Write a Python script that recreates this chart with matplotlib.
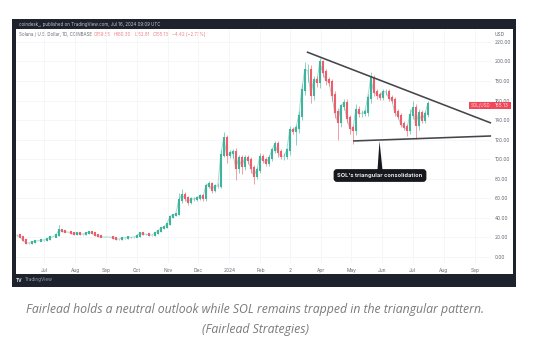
import numpy as np
import pandas as pd
import matplotlib
matplotlib.use("Agg")
import matplotlib.pyplot as plt
import matplotlib.dates as mdates
from matplotlib.patches import Rectangle, FancyBboxPatch, Polygon

closes = [
    22.5,20.5,17.4,14.3,14.3,15.3,16.4,16.4,17.4,17.4,18.4,20.5,
    20.5,22.5,27.6,26.6,25.6,25.6,24.5,23.5,24.5,23.5,23.5,24.5,
    25.6,24.5,22.5,21.5,20.5,20.5,20.5,20.5,19.4,18.4,18.4,19.4,
    19.4,20.5,20,20.5,21.5,24.5,23.5,23.5,22.5,22.5,24.5,26.6,
    29.7,30.7,33.8,40.9,43,44,58.3,63.4,60.4,56.3,59.3,59.3,
    60.4,62.4,60.4,72.6,74.7,68.5,72.6,72.6,104,122,104,106,
    107,91,101,93,101,99,91,83,89,102,99,96,
    101,109,116,107,103,103,109,130,129,132,144,171,
    191,191,166,181,179,199,189,181,179,166,148,138,
    154,158,142,132,130,150,147,147,148,163,183,169,
    166,164,169,169,163,161,148,144,136,133,130,145,
    152,135,147,140,146,156]
wick_up = [
    .5,.5,.5,.3,.3,.5,.5,.5,.5,.5,.5,.5,
    .5,1,5,1,.5,.5,.5,.5,.5,.5,.5,.5,
    .5,.5,.5,.5,.5,.5,.5,.5,.5,.5,.5,.5,
    .5,.5,.5,.5,2,1,.5,.5,.5,.5,1,1,
    1,1,1,2,1,1,7,6,3,2,2,2,
    2,2,2,3,3,2,2,3,5,6,3,3,
    3,4,3,3,3,3,3,3,3,4,3,3,
    3,3,3,3,3,3,3,4,3,3,5,6,
    8,6,5,4,4,5,3,3,3,3,4,4,
    3,4,4,3,3,6,4,3,3,4,6,3,
    3,3,3,3,3,3,3,3,3,3,3,6,
    8,4,4,3,3,4]
wick_down = [
    .5,.5,.5,.5,.5,.5,.5,.5,.5,.5,.5,.5,
    .5,.5,1,.5,.5,.5,.5,.5,.5,.5,.5,.5,
    .5,.5,.5,.5,.5,.5,.5,.5,.5,.5,.5,.5,
    .5,.5,.5,.5,.5,.5,.5,.5,.5,.5,.5,.5,
    1,1,1,1,1,1,1,3,3,3,2,2,
    2,2,3,3,2,3,2,2,2,2,8,3,
    5,12,5,8,4,4,5,8,3,3,3,3,
    3,3,3,5,3,4,3,5,3,14,5,4,
    5,12,8,5,5,6,5,5,4,6,6,18,
    5,4,5,6,14,5,4,4,3,4,5,4,
    4,3,3,3,3,3,4,3,3,3,6,4,
    4,14,5,3,3,3]

first_bar, last_bar = "2023-06-04", "2024-07-16"
month_ticks = ["2023-07-01","2023-08-01","2023-09-01","2023-10-01","2023-11-01","2023-12-01",
               "2024-01-01","2024-02-01","2024-03-01","2024-04-01","2024-05-01","2024-06-01",
               "2024-07-01","2024-08-01","2024-09-01"]
month_labels = ["Jul","Aug","Sep","Oct","Nov","Dec","2024","Feb","2","Apr","May","Jun","Jul","Aug","Sep"]
price_ticks = [0,20,40,60,80,100,120,140,160,180,200,220]
resistance_dates, resistance_prices = ["2024-03-18","2024-09-17"], [209.7,137]
support_dates, support_prices = ["2024-05-03","2024-09-17"], [118.7,123.8]
last_close = "155.13"

UP, DOWN = "#3fb39c", "#ee5d6c"
W, H = 542, 351
fig = plt.figure(figsize=(W/100, H/100), dpi=100, facecolor="white")
plt.rcParams["font.family"] = ["Inter", "DejaVu Sans"]
SMALL = 3.2

bg = fig.add_axes([0,0,1,1], zorder=0)
bg.set_xlim(0,W); bg.set_ylim(H,0); bg.axis("off")
bg.add_patch(Rectangle((12,19),504,268,fc="#1e222d",ec="none"))
bg.add_patch(Rectangle((16,29),497,245,fc="white",ec="none"))
bg.text(19,24.2,"coindesk_, published on TradingView.com, Jul 16, 2024 09:09 UTC",color="#c4c6cc",fontsize=SMALL,va="center")
bg.text(19,34.5,"Solana / U.S. Dollar, 1D, COINBASE",color="#666a73",fontsize=SMALL,va="center")
for x,s in [(94,"O159.55"),(114,"H160.30"),(135,"L152.81"),(153,"C155.13"),(172,"\u22124.42 (\u22122.77%)")]:
    bg.text(x,34.5,s,color="#ee7f8c",fontsize=SMALL,va="center")
bg.text(16,280,"TV",color="#e2e3e6",fontsize=3.4,va="center",fontweight="bold",ha="left")
bg.text(25,280,"TradingView",color="#9a9da5",fontsize=3.4,va="center",ha="left")
bg.text(500,34.5,"USD",color="#666a73",fontsize=3.5,va="center",ha="center")
bg.text(255,309,"Fairlead holds a neutral outlook while SOL remains trapped in the triangular pattern.",
        family="Open Sans",style="italic",color="#7a7a7a",fontsize=8.8,ha="center",va="center")
bg.text(255,329,"(Fairlead Strategies)",family="Open Sans",style="italic",color="#7a7a7a",fontsize=8.8,ha="center",va="center")

ax = fig.add_axes([16/W,1-263/H,475/W,234/H], zorder=1)
ax.patch.set_alpha(0)
for s in ax.spines.values(): s.set_visible(False)
dates = pd.date_range(first_bar, last_bar, periods=len(closes))
xs = mdates.date2num(dates)
jul1 = mdates.date2num(pd.Timestamp("2023-07-01"))
ax.set_xlim(jul1-27.8, jul1+443.9)
ax.set_ylim(-6.1,233.2)
ax.set_xticks(mdates.date2num(pd.to_datetime(month_ticks)), month_labels)
ax.yaxis.tick_right()
ax.set_yticks(price_ticks, [f"{p:.2f}" for p in price_ticks])
ax.tick_params(length=0,labelsize=3.5,labelcolor="#666a73")
ax.tick_params(axis="y",pad=2.5)
ax.tick_params(axis="x",pad=3.5)
ax.grid(True,color="#f4f5f7",lw=0.6)
ax.set_axisbelow(True)

opens = [closes[0]] + closes[:-1]
ax.plot(xs,closes,color=UP,lw=0.7,alpha=0.45,zorder=2)
for x,o,c,u,d in zip(xs,opens,closes,wick_up,wick_down):
    col = UP if c>=o else DOWN
    ax.vlines(x,min(o,c)-d,max(o,c)+u,color=col,lw=0.6,alpha=0.7,zorder=3)
    ax.vlines(x,min(o,c),max(o,c),color=col,lw=1.5,zorder=4,capstyle="projecting")

ax.plot(pd.to_datetime(resistance_dates),resistance_prices,color="#45464a",lw=1.15,zorder=5,clip_on=False,solid_capstyle="butt")
ax.plot(pd.to_datetime(support_dates),support_prices,color="#45464a",lw=1.15,zorder=5,clip_on=False,solid_capstyle="butt")

fg = fig.add_axes([0,0,1,1], zorder=2)
fg.set_xlim(0,W); fg.set_ylim(H,0); fg.axis("off"); fg.patch.set_alpha(0)
fg.add_patch(Polygon([(379.5,141),(377.5,170),(382.5,170)],fc="#16181d",ec="none"))
fg.add_patch(FancyBboxPatch((335,170.5),90,10,boxstyle="round,pad=0,rounding_size=2",mutation_aspect=1,
                            fc="#16181d",ec="#16181d",lw=2))
fg.text(380,175.6,"SOL's triangular consolidation",color="#e8e8ea",fontsize=4.1,fontweight="bold",ha="center",va="center")
fg.add_patch(Rectangle((469,102),42,7,fc="#f0475a",ec="none"))
fg.text(481,105.5,"SOL/USD",color="#ffd9dd",fontsize=3.2,ha="center",va="center")
fg.text(502,105.5,last_close,color="#ffe9eb",fontsize=3.4,ha="center",va="center")

fig.savefig("out.png",dpi=100)
